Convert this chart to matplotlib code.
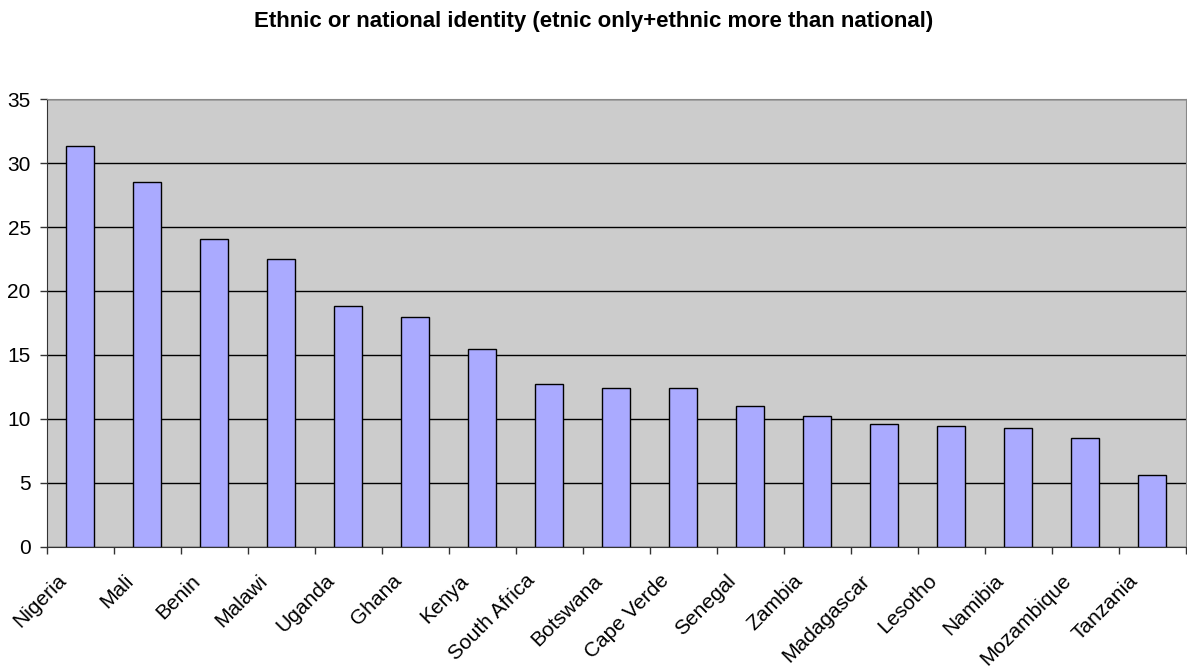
import matplotlib
matplotlib.use("Agg")
import matplotlib.pyplot as plt
import matplotlib.transforms as mtransforms
import numpy as np

countries = ["Nigeria", "Mali", "Benin", "Malawi", "Uganda", "Ghana", "Kenya",
             "South Africa", "Botswana", "Cape Verde", "Senegal", "Zambia",
             "Madagascar", "Lesotho", "Namibia", "Mozambique", "Tanzania"]
values = [31.3, 28.5, 24.1, 22.5, 18.8, 18.0, 15.5, 12.7, 12.4, 12.4,
          11.0, 10.2, 9.6, 9.45, 9.3, 8.5, 5.6]

plt.rcParams['font.family'] = ['Liberation Sans', 'DejaVu Sans']

fig = plt.figure(figsize=(11.87, 6.70), dpi=100)
ax = fig.add_axes([0.0393, 0.184, 0.9595, 0.668])

x = np.arange(len(countries))
ax.set_facecolor('#CCCCCC')
ax.bar(x, values, width=0.42, color='#AAAAFF', edgecolor='black', linewidth=1.0, zorder=3)

ax.set_xlim(-0.5, len(countries) - 0.5)
ax.set_ylim(0, 35)
ax.set_yticks(range(0, 36, 5))
ax.yaxis.grid(True, color='black', linewidth=1.0, zorder=0)
ax.set_axisbelow(True)

# ticks sit between the categories, labels under the bars
ax.set_xticks(np.arange(-0.5, len(countries), 1.0))
ax.set_xticklabels([])
ax.tick_params(axis='x', direction='out', length=5, width=1, color='#333333')
ax.tick_params(axis='y', direction='out', length=5, width=1, color='#333333',
               labelsize=15, pad=6.5)

shift = mtransforms.ScaledTranslation(-17 / 100, -31 / 100, fig.dpi_scale_trans)
for xi, name in zip(x, countries):
    ax.text(xi, 0, name, rotation=45, ha='right', va='center',
            rotation_mode='anchor', fontsize=15,
            transform=ax.get_xaxis_transform() + shift)

for side in ['top', 'right']:
    ax.spines[side].set_color('#888888')
for side in ['left', 'bottom']:
    ax.spines[side].set_color('#333333')

fig.text(0.5, 0.968, "Ethnic or national identity (etnic only+ethnic more than national)",
         ha='center', va='center', fontsize=16, fontweight='bold')

fig.savefig("out.png", dpi=100)
